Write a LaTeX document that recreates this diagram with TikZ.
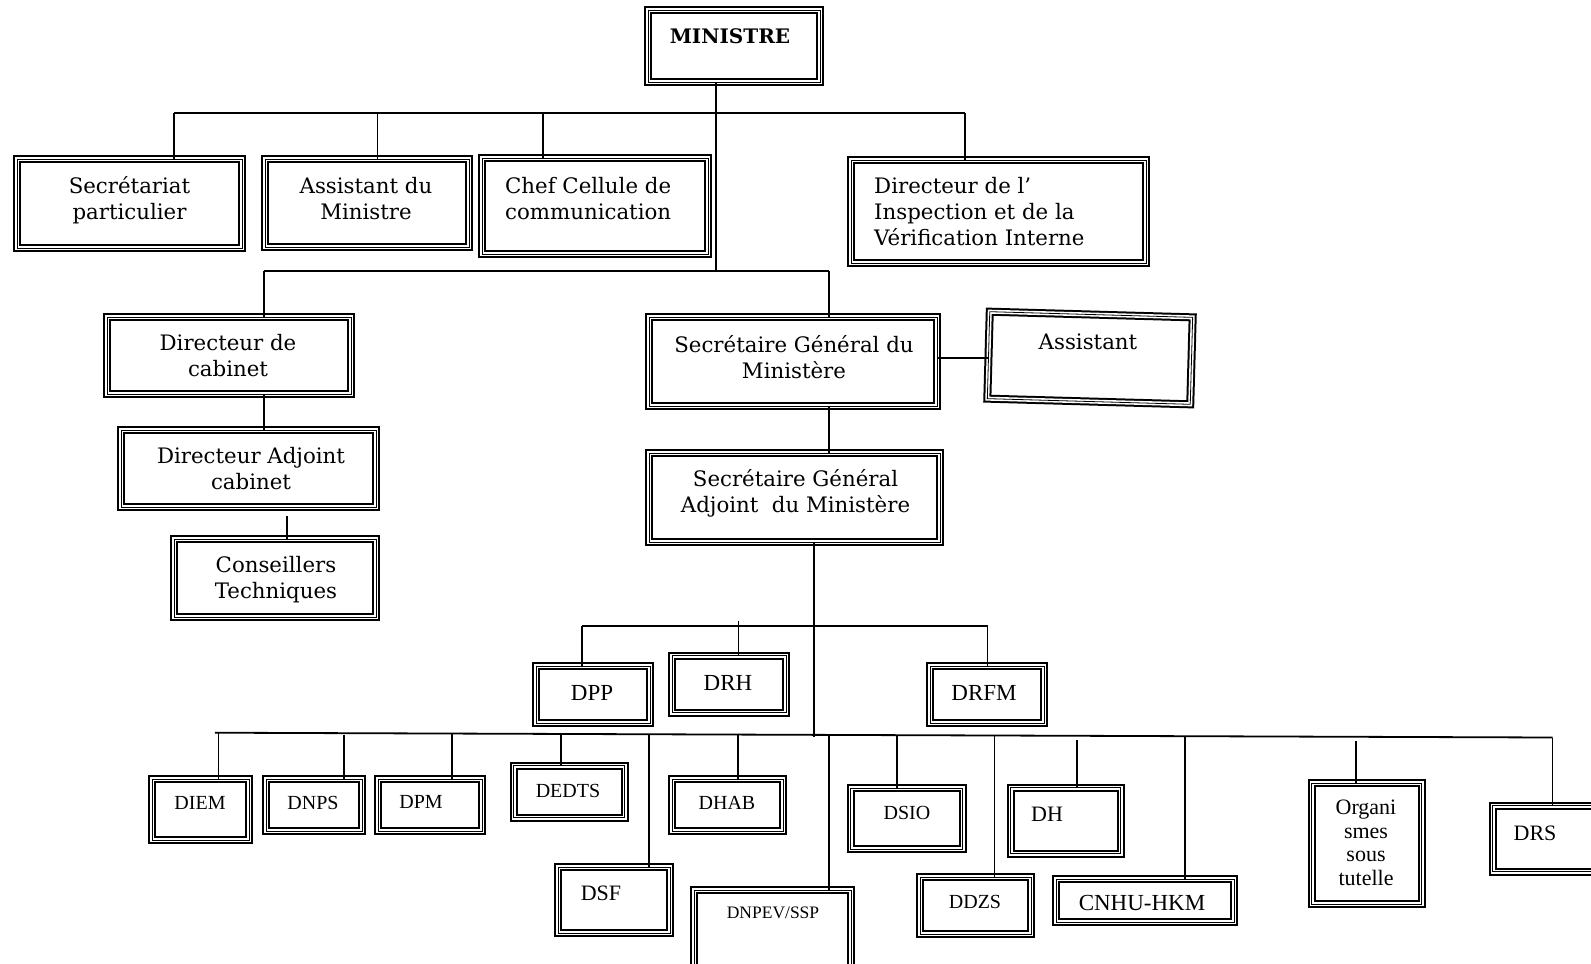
\documentclass[tikz,border=0pt]{standalone}
\usepackage{fontspec}
\setmainfont{DejaVu Serif}
\newfontfamily\romain{Liberation Serif}

\begin{document}
\begin{tikzpicture}[x=1pt,y=-1pt]
\tikzset{cadre/.style={draw=white, line width=4pt, preaction={draw=black, line width=8pt}, postaction={draw=black, line width=0.8pt}, inner sep=0pt, outer sep=0pt}}
\tikzset{trait/.style={line width=1.8pt}}
\tikzset{texte/.style={font=\fontsize{21.3}{26}\selectfont, align=center, inner sep=0pt}}
\tikzset{gauche/.style={font=\fontsize{21.3}{26}\selectfont, align=left, anchor=west, inner sep=0pt}}
\tikzset{petit/.style={font=\romain\fontsize{20}{23}\selectfont, inner sep=0pt}}
\tikzset{moyen/.style={font=\romain\fontsize{23}{26}\selectfont, inner sep=0pt}}
\useasboundingbox (0,0) rectangle (1591,964);
\clip (0,0) rectangle (1591,964);

\node[cadre, minimum width=172, minimum height=72] (ministre) at (734,46) {};
\node[texte, font=\bfseries\fontsize{20}{26}\selectfont] (ministre-t) at (730,36) {MINISTRE};

\node[cadre, minimum width=225, minimum height=89] (sec) at (129.5,203.5) {};
\node[texte] (sec-t) at (129.5,200) {Secrétariat\\particulier};
\node[cadre, minimum width=204, minimum height=88] (assmin) at (367,203) {};
\node[texte] (assmin-t) at (366,199) {Assistant du\\Ministre};
\node[cadre, minimum width=226, minimum height=96] (chef) at (595,206) {};
\node[gauche] (chef-t) at (505,199) {Chef Cellule de\\communication};
\node[cadre, minimum width=295, minimum height=103] (dir) at (998.5,211.5) {};
\node[gauche] (dir-t) at (874,212) {Directeur de l’\\Inspection et de la\\Vérification Interne};

\node[cadre, minimum width=244, minimum height=77] (dc) at (229,355.5) {};
\node[texte] (dc-t) at (228,356) {Directeur de\\cabinet};
\node[cadre, minimum width=255, minimum height=77] (dac) at (248.5,468.5) {};
\node[texte] (dac-t) at (251,469) {Directeur Adjoint\\cabinet};
\node[cadre, minimum width=202, minimum height=78] (ct) at (275,578) {};
\node[texte] (ct-t) at (276,580) {Conseillers\\Techniques};

\node[cadre, minimum width=288, minimum height=89] (sg) at (793,361.5) {};
\node[texte] (sg-t) at (794,357) {Secrétaire Général du\\Ministère};
\node[cadre, minimum width=203, minimum height=87, rotate=-1.6] (asst) at (1090,358) {};
\node[texte] (asst-t) at (1088,342) {Assistant};
\node[cadre, minimum width=291, minimum height=89] (sga) at (794.7,497.5) {};
\node[texte] (sga-t) at (795.5,493) {Secrétaire Général\\Adjoint\ \ du Ministère};

\node[cadre, minimum width=114, minimum height=57] (dpp) at (593.2,694.5) {};
\node[moyen] (dpp-t) at (592,693) {DPP};
\node[cadre, minimum width=114, minimum height=57] (drh) at (729,684.3) {};
\node[moyen] (drh-t) at (728,683) {DRH};
\node[cadre, minimum width=114, minimum height=57] (drfm) at (987,694.5) {};
\node[moyen] (drfm-t) at (984,693) {DRFM};

\node[cadre, minimum width=97, minimum height=61] (diem) at (200.5,809.5) {};
\node[petit] (diem-t) at (200,803) {DIEM};
\node[cadre, minimum width=96, minimum height=52] (dnps) at (314,805) {};
\node[petit] (dnps-t) at (313,803) {DNPS};
\node[cadre, minimum width=104, minimum height=52] (dpm) at (430,805) {};
\node[petit] (dpm-t) at (421,802) {DPM};
\node[cadre, minimum width=111, minimum height=52] (dedts) at (569.2,791.7) {};
\node[petit] (dedts-t) at (568,791) {DEDTS};
\node[cadre, minimum width=112, minimum height=66] (dsf) at (614.3,900) {};
\node[petit, font=\romain\fontsize{22}{24}\selectfont] (dsf-t) at (601,893) {DSF};
\node[cadre, minimum width=111, minimum height=52] (dhab) at (727.5,805) {};
\node[petit] (dhab-t) at (727,803) {DHAB};
\node[cadre, minimum width=157, minimum height=96] (dnpev) at (772.5,938) {};
\node[petit, font=\romain\fontsize{17.5}{20}\selectfont] (dnpev-t) at (773,913) {DNPEV/SSP};
\node[cadre, minimum width=112, minimum height=61] (dsio) at (906.7,818.5) {};
\node[petit] (dsio-t) at (907,813) {DSIO};
\node[cadre, minimum width=111, minimum height=57] (ddzs) at (975.7,905.5) {};
\node[petit] (ddzs-t) at (975,902) {DDZS};
\node[cadre, minimum width=110, minimum height=66] (dh) at (1065.8,820.8) {};
\node[petit, font=\romain\fontsize{22}{24}\selectfont] (dh-t) at (1047,814) {DH};
\node[cadre, minimum width=178, minimum height=43] (cnhu) at (1145,900.5) {};
\node[moyen] (cnhu-t) at (1142,903) {CNHU-HKM};
\node[cadre, minimum width=110, minimum height=121] (org) at (1366.8,843.5) {};
\node[petit, font=\romain\fontsize{22}{23.5}\selectfont, align=center] (org-t) at (1366,843) {Organi\\smes\\sous\\tutelle};
\node[cadre, minimum width=103, minimum height=66] (drs) at (1544.3,838.8) {};
\node[petit, font=\romain\fontsize{22}{24}\selectfont] (drs-t) at (1535,833) {DRS};

\coordinate (h1g) at (174,112.6);
\coordinate (h1a) at (377.5,112.6);
\coordinate (h1b) at (543,112.6);
\coordinate (h1d) at (965,112.6);
\coordinate (m1) at (716,271);
\coordinate (h2g) at (264,271);
\coordinate (h2d) at (829,271);
\coordinate (c1) at (287,516);
\coordinate (a1) at (0,358);
\coordinate (t1) at (814,737);
\coordinate (h3g) at (582,626);
\coordinate (h3a) at (738.5,620.7);
\coordinate (h3d) at (987.5,626);
\coordinate (bg) at (214.8,732.7);
\coordinate (bd) at (1552.5,737.5);
\coordinate (b1) at (218.4,732.7);
\coordinate (b2) at (344.3,735);
\coordinate (b3) at (452.3,733.5);
\coordinate (b4) at (561,733.9);
\coordinate (b5) at (648.7,734.3);
\coordinate (b6) at (738,734.6);
\coordinate (b7) at (829,734.9);
\coordinate (b8) at (897,735.1);
\coordinate (b9) at (994.5,735.5);
\coordinate (b10) at (1077,740);
\coordinate (b11) at (1185,736.2);
\coordinate (b12) at (1356,741);
\coordinate (b13) at (1552.5,737.5);

\draw[trait] (h1g) -- (h1d);
\draw[trait] (h1g) -- (h1g |- sec.north);
\draw[trait] (h1a) -- (h1a |- assmin.north);
\draw[trait] (h1b) -- (h1b |- chef.north);
\draw[trait] (h1d) -- (h1d |- dir.north);
\draw[trait] (m1 |- ministre.south) -- (m1);
\draw[trait] (h2g) -- (h2d);
\draw[trait] (h2g) -- (h2g |- dc.north);
\draw[trait] (h2d) -- (h2d |- sg.north);
\draw[trait] (h2g |- dc.south) -- (h2g |- dac.north);
\draw[trait] (c1) -- (c1 |- ct.north);
\draw[trait] (a1 -| sg.east) -- (a1 -| asst.west);
\draw[trait] (h2d |- sg.south) -- (h2d |- sga.north);
\draw[trait] (t1 |- sga.south) -- (t1);
\draw[trait] (h3g) -- (h3d);
\draw[trait] (h3g) -- (h3g |- dpp.north);
\draw[trait] (h3a) -- (h3a |- drh.north);
\draw[trait] (h3d) -- (h3d |- drfm.north);
\draw[trait] (bg) -- (bd);
\draw[trait] (b1) -- (b1 |- diem.north);
\draw[trait] (b2) -- (b2 |- dnps.north);
\draw[trait] (b3) -- (b3 |- dpm.north);
\draw[trait] (b4) -- (b4 |- dedts.north);
\draw[trait] (b5) -- (b5 |- dsf.north);
\draw[trait] (b6) -- (b6 |- dhab.north);
\draw[trait] (b7) -- (b7 |- dnpev.north);
\draw[trait] (b8) -- (b8 |- dsio.north);
\draw[trait] (b9) -- (b9 |- ddzs.north);
\draw[trait] (b10) -- (b10 |- dh.north);
\draw[trait] (b11) -- (b11 |- cnhu.north);
\draw[trait] (b12) -- (b12 |- org.north);
\draw[trait] (b13) -- (b13 |- drs.north);
\end{tikzpicture}
\end{document}
